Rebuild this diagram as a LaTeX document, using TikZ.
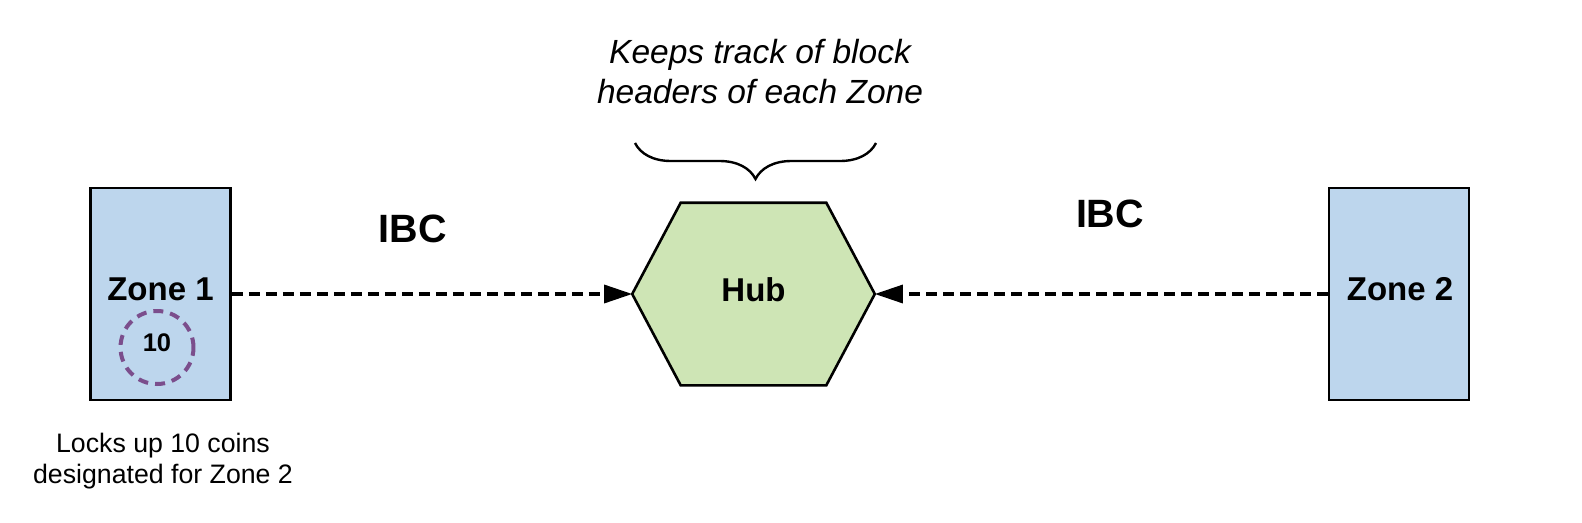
\documentclass[tikz,border=0pt]{standalone}
\usepackage{fontspec}
\setmainfont{Liberation Sans}
\usetikzlibrary{decorations.pathreplacing}
\usetikzlibrary{arrows.meta}
\definecolor{blue1}{RGB}{189, 214, 237}
\definecolor{green1}{RGB}{206, 229, 181}
\definecolor{purple1}{RGB}{123, 78, 140}

\begin{document}
\begin{tikzpicture}[x=1pt, y=-1pt, line width=2.6pt,
  zonebox/.style={rectangle, draw=black, fill=blue1, minimum width=140pt, minimum height=212pt, inner sep=0pt},
  boldlbl/.style={font=\fontsize{33}{39}\selectfont\bfseries, inner sep=0pt},
  ibclbl/.style={font=\fontsize{39.5}{46}\selectfont\bfseries, inner sep=0pt},
  ibcarrow/.style={dash pattern=on 11pt off 6pt, line width=3.2pt, -{Triangle[length=28pt,width=18pt]}}]
  \useasboundingbox (0,0) rectangle (1582,522);
  \node[zonebox] (zone1) at (160.5,294) {};
  \node[zonebox] (zone2) at (1399,294) {};
  \node[minimum width=240pt, minimum height=180pt, inner sep=0pt] (hub) at (753.5,294) {};
  \draw[fill=green1] (hub.west) -- ([xshift=48.5pt]hub.north west) -- ([xshift=-48.5pt]hub.north east)
    -- (hub.east) -- ([xshift=-48.5pt]hub.south east) -- ([xshift=48.5pt]hub.south west) -- cycle;
  \node[boldlbl] (zone1lbl) at (160.5,289) {Zone 1};
  \node[boldlbl] (zone2lbl) at (1400,289) {Zone 2};
  \node[boldlbl] (hublbl) at (753.5,289.5) {Hub};
  \node[circle, draw=purple1, dash pattern=on 10pt off 7pt, line width=4pt, minimum size=73pt, inner sep=0pt] (coins) at (157,347.5) {};
  \node[font=\fontsize{25.5}{30}\selectfont\bfseries, inner sep=0pt] (coinslbl) at (157,342.5) {10};
  \node[ibclbl] (ibc1) at (413,229) {IBC};
  \node[ibclbl] (ibc2) at (1110,213.5) {IBC};
  \foreach \from/\to in {zone1/hub.west, zone2/hub.east}
   \draw[ibcarrow] (\from) -- (\to);
  \node[font=\fontsize{26.7}{31}\selectfont, align=center, inner sep=0pt] (lockcap) at (163,460.7) {Locks up 10 coins\\designated for Zone 2};
  \node[font=\fontsize{33.5}{40}\selectfont\itshape, align=center, inner sep=0pt] (hubnote) at (760,71.5) {Keeps track of block\\headers of each Zone};
  % brace over the hub
  \coordinate (brr) at (876,143);
  \coordinate (brl) at (635,143);
  \draw [decorate,decoration={brace,amplitude=36pt},line width=2.4pt] (brr) -- (brl);
\end{tikzpicture}
\end{document}
